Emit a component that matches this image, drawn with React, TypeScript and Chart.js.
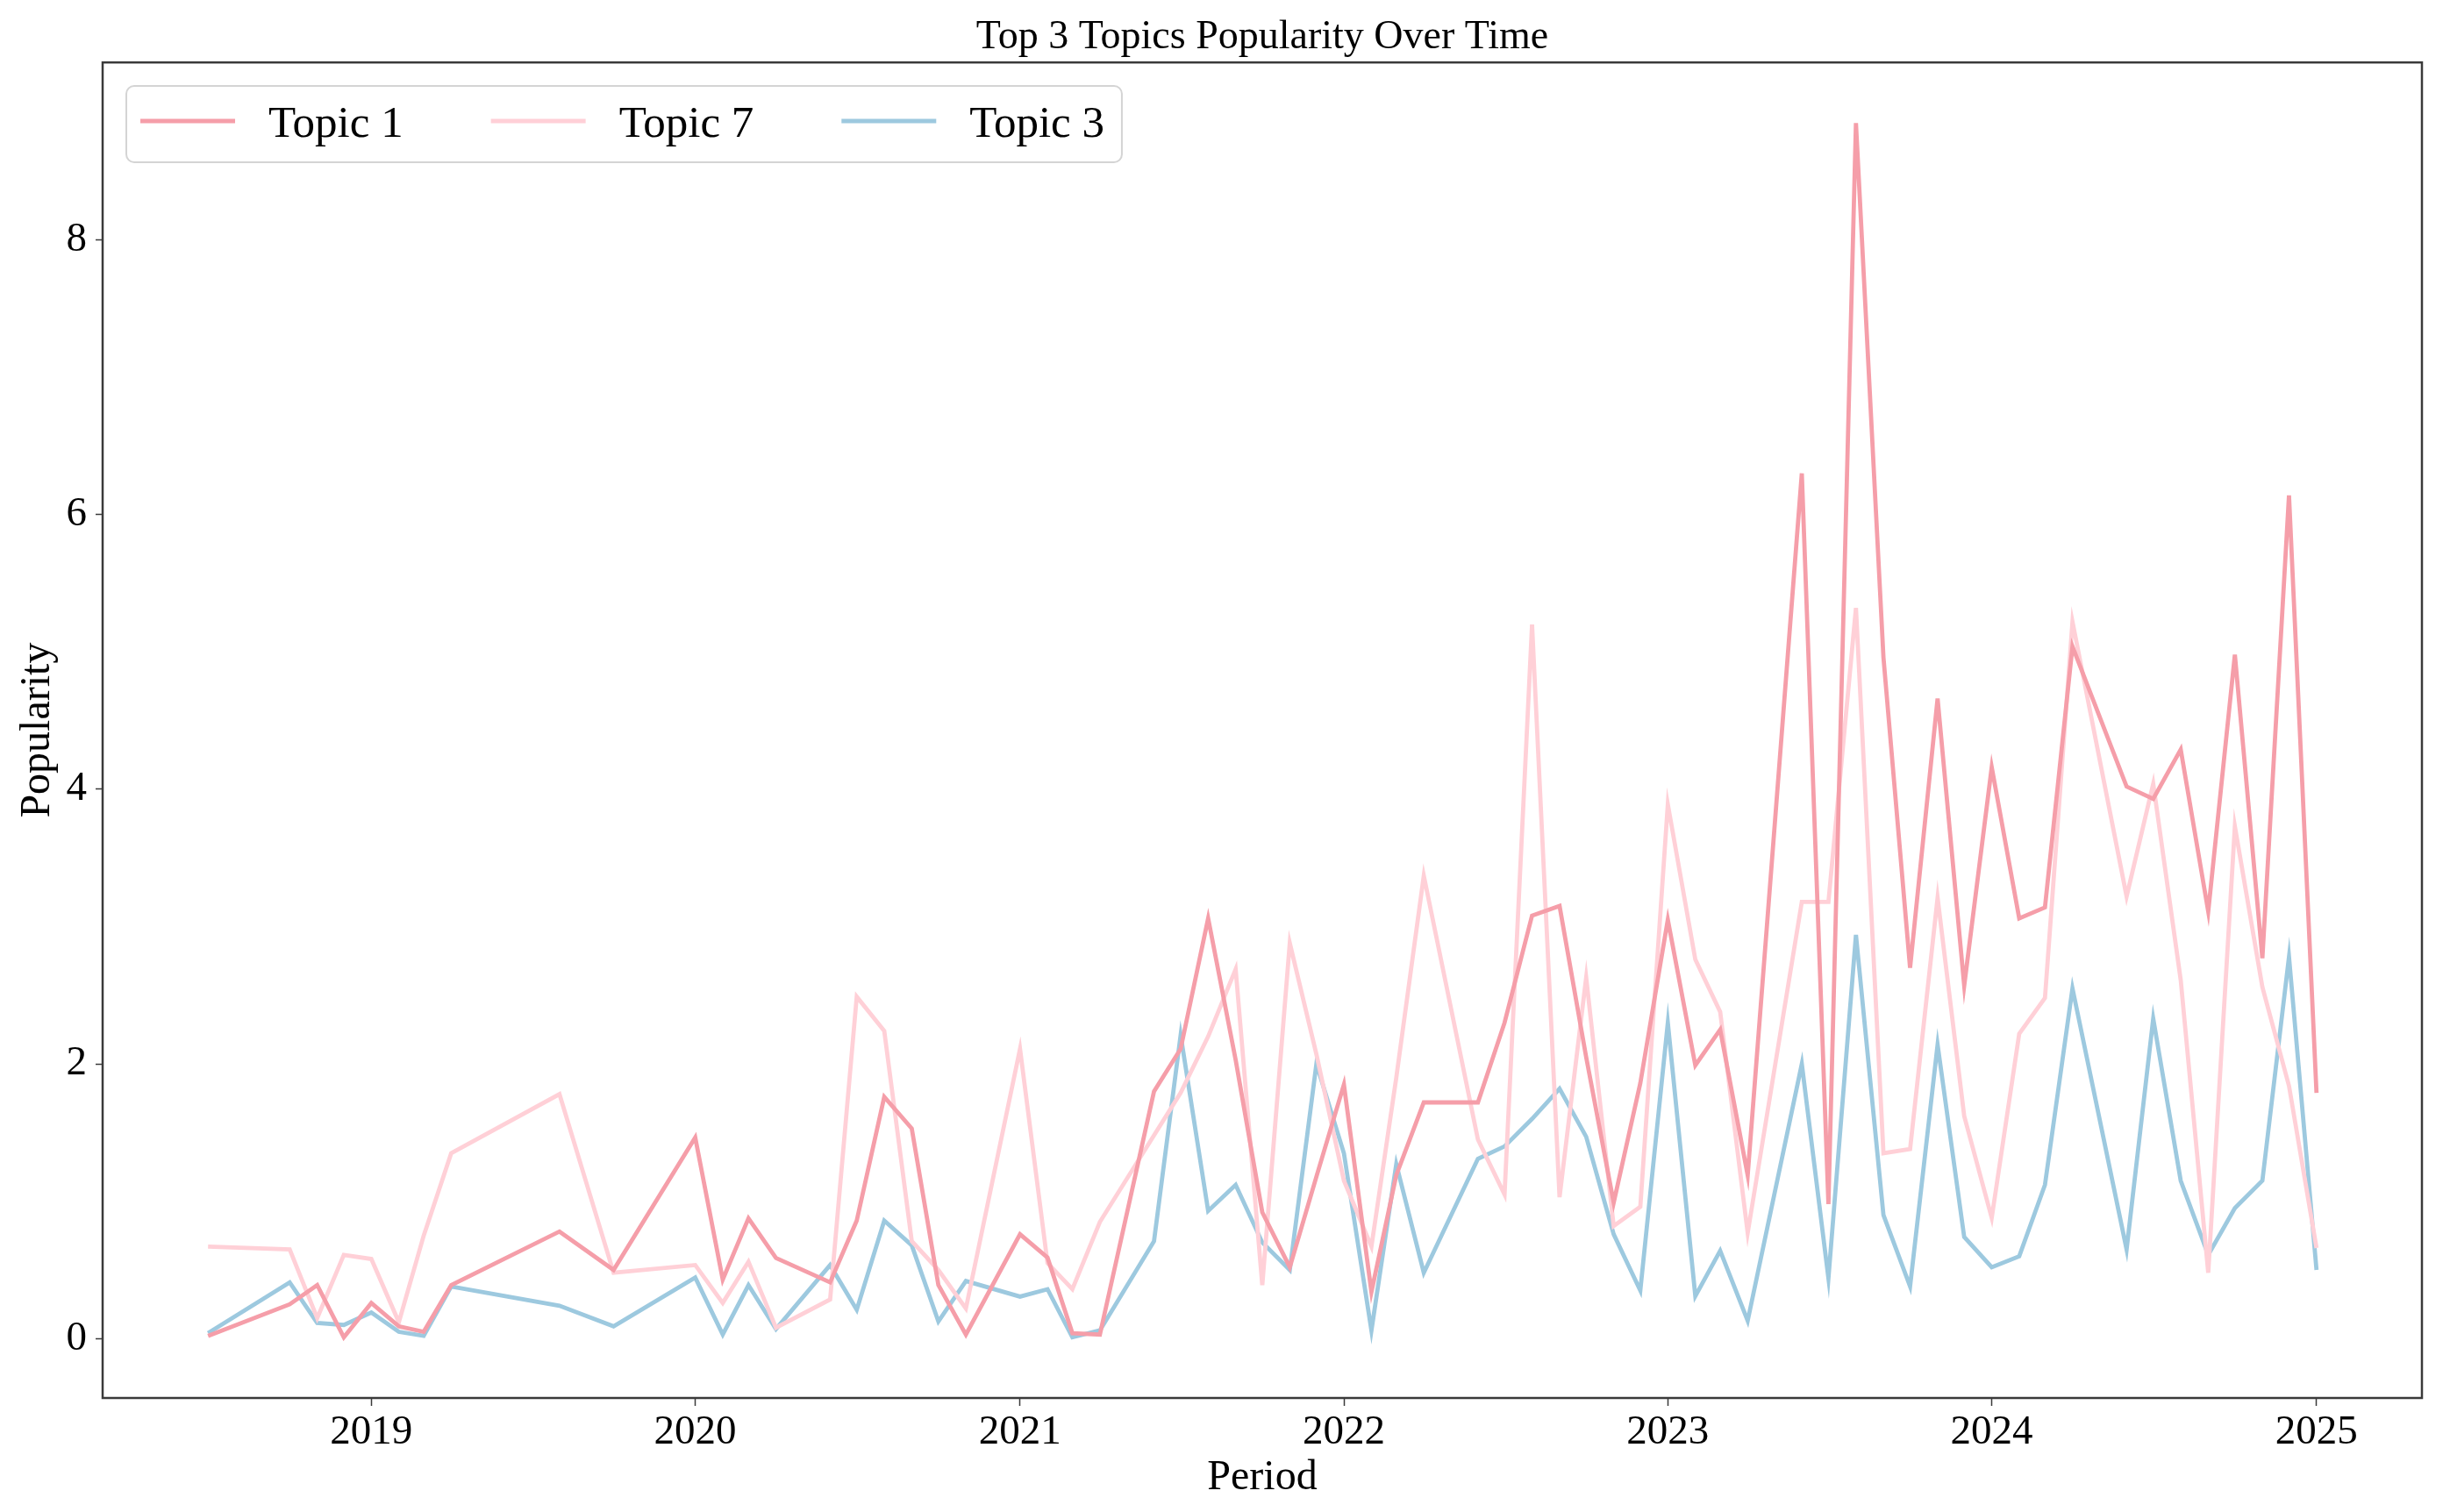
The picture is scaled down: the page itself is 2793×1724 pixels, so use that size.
import React, { useEffect, useRef } from "react";
import { Chart, registerables } from "chart.js";

Chart.register(...registerables);

// ---- Data ----
const periods = [
  "2018-07", "2018-10", "2018-11", "2018-12",
  "2019-01", "2019-02", "2019-03", "2019-04", "2019-08", "2019-10",
  "2020-01", "2020-02", "2020-03", "2020-04", "2020-06", "2020-07", "2020-08", "2020-09", "2020-10", "2020-11",
  "2021-01", "2021-02", "2021-03", "2021-04", "2021-06", "2021-07", "2021-08", "2021-09", "2021-10", "2021-11", "2021-12",
  "2022-01", "2022-02", "2022-03", "2022-04", "2022-06", "2022-07", "2022-08", "2022-09", "2022-10", "2022-11", "2022-12",
  "2023-01", "2023-02", "2023-03", "2023-04", "2023-06", "2023-07", "2023-08", "2023-09", "2023-10", "2023-11", "2023-12",
  "2024-01", "2024-02", "2024-03", "2024-04", "2024-06", "2024-07", "2024-08", "2024-09", "2024-10", "2024-11", "2024-12",
  "2025-01",
];

const topic1 = [
  0.02, 0.25, 0.39, 0.01,
  0.26, 0.09, 0.05, 0.39, 0.78, 0.5,
  1.465, 0.43, 0.876, 0.587, 0.41, 0.86, 1.76, 1.53, 0.39, 0.03,
  0.76, 0.59, 0.04, 0.03, 1.8, 2.11, 3.06, 2.03, 0.92, 0.52, 1.18,
  1.85, 0.34, 1.19, 1.72, 1.72, 2.3, 3.08, 3.15, 2.05, 0.99, 1.86,
  3.05, 1.99, 2.25, 1.19, 6.3, 0.98, 8.85, 4.96, 2.7, 4.66, 2.57,
  4.16, 3.06, 3.14, 5.04, 4.02, 3.93, 4.29, 3.11, 4.98, 2.77, 6.14,
  1.79,
];

const topic7 = [
  0.67, 0.65, 0.15, 0.61,
  0.58, 0.12, 0.75, 1.35, 1.78, 0.48,
  0.536, 0.26, 0.56, 0.08, 0.285, 2.49, 2.24, 0.71, 0.5, 0.22,
  2.11, 0.55, 0.36, 0.85, 1.48, 1.79, 2.2, 2.69, 0.39, 2.88, 2.07,
  1.15, 0.67, 1.9, 3.37, 1.45, 1.05, 5.2, 1.03, 2.63, 0.82, 0.96,
  3.89, 2.76, 2.38, 0.77, 3.18, 3.18, 5.32, 1.35, 1.38, 3.21, 1.62,
  0.88, 2.22, 2.48, 5.22, 3.22, 4.04, 2.61, 0.48, 3.73, 2.56, 1.84,
  0.66,
];

const topic3 = [
  0.04, 0.41, 0.115, 0.1,
  0.19, 0.05, 0.02, 0.38, 0.24, 0.09,
  0.445, 0.03, 0.39, 0.07, 0.536, 0.21, 0.86, 0.68, 0.125, 0.42,
  0.306, 0.36, 0.01, 0.06, 0.71, 2.21, 0.93, 1.12, 0.7, 0.5, 2.0,
  1.35, 0.06, 1.27, 0.48, 1.31, 1.4, 1.6, 1.82, 1.47, 0.76, 0.35,
  2.3, 0.31, 0.64, 0.13, 2.0, 0.44, 2.94, 0.9, 0.38, 2.14, 0.74,
  0.52, 0.6, 1.12, 2.55, 0.65, 2.33, 1.15, 0.61, 0.95, 1.15, 2.78,
  0.5,
];

const seriesNames = ["Topic 1", "Topic 7", "Topic 3"];
const seriesValues = [topic1, topic7, topic3];
const seriesColors = ["#f59ea9", "#ffd0d7", "#9dc9df"];

const xTickYears = [2019, 2020, 2021, 2022, 2023, 2024, 2025];
const yTickValues = [0, 2, 4, 6, 8];

const titleText = "Top 3 Topics Popularity Over Time";
const xTitle = "Period";
const yTitle = "Popularity";

// ---- Helpers ----
const DAY = 86400000;
const FONT = "'Liberation Serif', 'Times New Roman', serif";
const toDay = (p: string) => {
  const [y, m] = p.split("-").map(Number);
  return Date.UTC(y, m - 1, 1) / DAY;
};

const xs = periods.map(toDay);
const xMinData = Math.min(...xs);
const xMaxData = Math.max(...xs);
const xPad = (xMaxData - xMinData) * 0.05;
const allY = [...topic1, ...topic7, ...topic3];
const yMinData = Math.min(...allY);
const yMaxData = Math.max(...allY);
const yPad = (yMaxData - yMinData) * 0.05;

const framePlugin = {
  id: "frame",
  afterDraw(chart: any) {
    const { ctx, chartArea } = chart;
    ctx.save();
    ctx.strokeStyle = "#3a3a3a";
    ctx.lineWidth = 2.5;
    ctx.strokeRect(chartArea.left, chartArea.top, chartArea.right - chartArea.left, chartArea.bottom - chartArea.top);
    ctx.restore();
  },
};

const legendPlugin = {
  id: "insideLegend",
  afterDraw(chart: any) {
    const { ctx } = chart;
    ctx.save();
    ctx.font = `51px ${FONT}`;
    const boxX = 144, boxY = 98, boxH = 87;
    const padL = 16, padR = 20, handleLen = 108, handleGap = 38, colGap = 100;
    const widths = chart.data.datasets.map((ds: any) => ctx.measureText(ds.label).width);
    let total = padL + padR;
    widths.forEach((w: number, i: number) => {
      total += handleLen + handleGap + w + (i < widths.length - 1 ? colGap : 0);
    });
    ctx.beginPath();
    ctx.roundRect(boxX, boxY, total, boxH, 9);
    ctx.fillStyle = "rgba(255,255,255,0.85)";
    ctx.fill();
    ctx.strokeStyle = "#d4d4d4";
    ctx.lineWidth = 2;
    ctx.stroke();
    let x = boxX + padL;
    const cy = 138;
    chart.data.datasets.forEach((ds: any, i: number) => {
      ctx.beginPath();
      ctx.strokeStyle = ds.borderColor;
      ctx.lineWidth = 5;
      ctx.moveTo(x, cy);
      ctx.lineTo(x + handleLen, cy);
      ctx.stroke();
      x += handleLen + handleGap;
      ctx.fillStyle = "#000";
      ctx.textBaseline = "alphabetic";
      ctx.textAlign = "left";
      ctx.fillText(ds.label, x, 156);
      x += widths[i] + colGap;
    });
    ctx.restore();
  },
};

export default function App() {
  const canvasRef = useRef<HTMLCanvasElement | null>(null);

  useEffect(() => {
    if (!canvasRef.current) return;
    const chart = new Chart(canvasRef.current, {
      type: "line",
      data: {
        datasets: seriesNames.map((name, si) => ({
          label: name,
          data: xs.map((x, i) => ({ x, y: seriesValues[si][i] })),
          borderColor: seriesColors[si],
          backgroundColor: seriesColors[si],
          borderWidth: 4.8,
          pointRadius: 0,
          tension: 0,
          fill: false,
        })),
      },
      options: {
        animation: false,
        responsive: false,
        maintainAspectRatio: false,
        devicePixelRatio: 1,
        layout: { padding: { left: 0, right: 32, top: 0, bottom: 0 } },
        plugins: {
          legend: { display: false },
          tooltip: { enabled: false },
          title: {
            display: true,
            text: titleText,
            color: "#000",
            fullSize: false,
            font: { family: FONT, size: 46, weight: "normal" },
            padding: { top: 15.5, bottom: 0.5 },
          },
        },
        scales: {
          x: {
            type: "linear",
            min: xMinData - xPad,
            max: xMaxData + xPad,
            afterBuildTicks: (scale: any) => {
              scale.ticks = xTickYears.map((y) => ({ value: Date.UTC(y, 0, 1) / DAY }));
            },
            afterFit: (scale: any) => {
              scale.height = 130;
            },
            ticks: {
              autoSkip: false,
              maxRotation: 0,
              color: "#000",
              padding: 2,
              font: { family: FONT, size: 47 },
              callback: (v: any) => String(new Date(Number(v) * DAY).getUTCFullYear()),
            },
            grid: { drawOnChartArea: false, drawTicks: true, tickLength: 9, tickColor: "#3a3a3a", tickWidth: 1.5 },
            border: { display: false },
            title: {
              display: true,
              text: xTitle,
              color: "#000",
              font: { family: FONT, size: 48 },
              padding: { top: 0, bottom: 10 },
            },
          },
          y: {
            type: "linear",
            min: yMinData - yPad,
            max: yMaxData + yPad,
            afterBuildTicks: (scale: any) => {
              scale.ticks = yTickValues.map((v) => ({ value: v }));
            },
            afterFit: (scale: any) => {
              scale.width = 117;
            },
            ticks: {
              color: "#000",
              padding: 10,
              font: { family: FONT, size: 47 },
              callback: (v: any) => String(v),
            },
            grid: { drawOnChartArea: false, drawTicks: true, tickLength: 8, tickColor: "#3a3a3a", tickWidth: 1.5 },
            border: { display: false },
            title: {
              display: true,
              text: yTitle,
              color: "#000",
              font: { family: FONT, size: 48 },
              padding: { top: 15, bottom: 0 },
            },
          },
        },
      },
      plugins: [framePlugin, legendPlugin],
    } as any);
    return () => chart.destroy();
  }, []);

  return (
    <canvas
      ref={canvasRef}
      width={2793}
      height={1724}
      style={{ position: "absolute", left: 0, top: 0, display: "block" }}
    />
  );
}
